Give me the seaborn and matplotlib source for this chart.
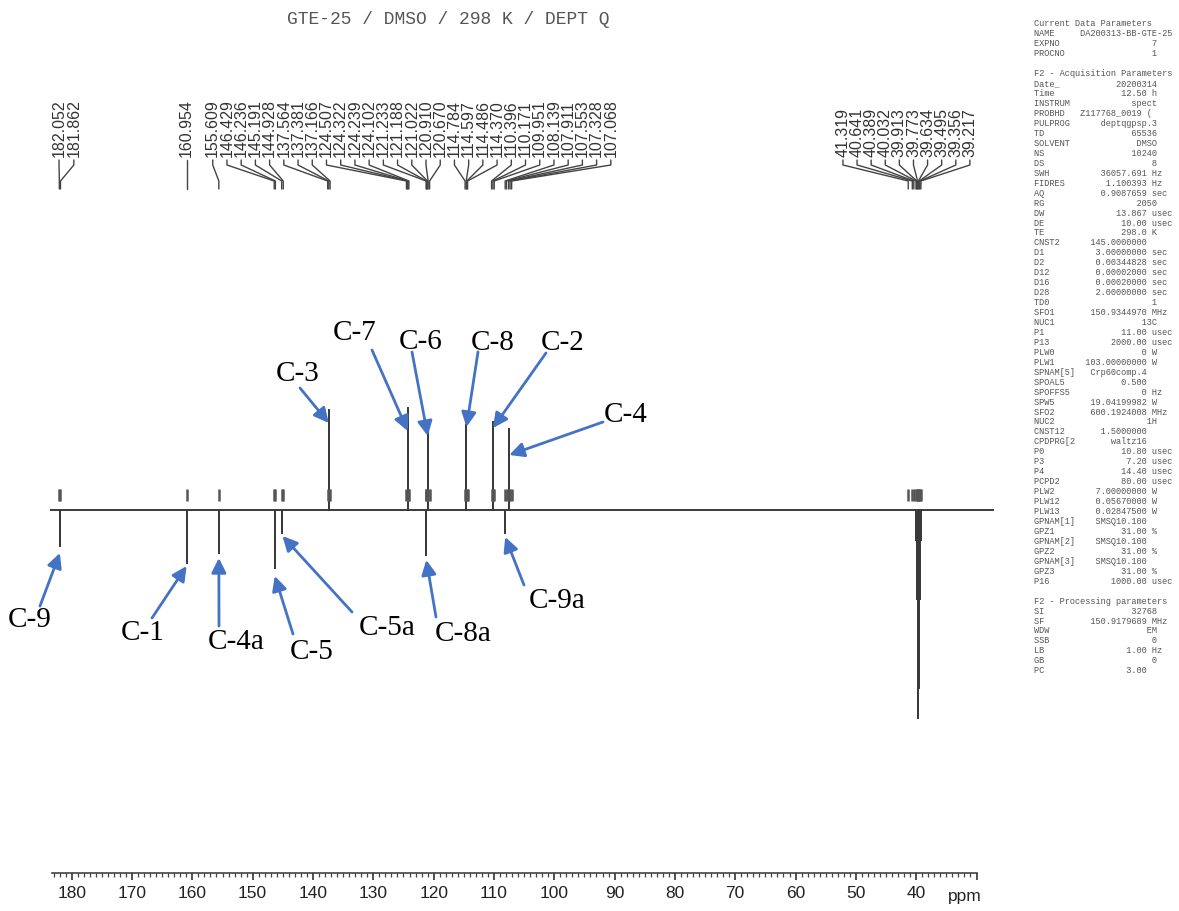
import matplotlib
matplotlib.use("Agg")
import matplotlib.pyplot as plt
import numpy as np
import pandas as pd
import seaborn as sns

# peak pick list printed above the spectrum (ppm)
pick_ppm = [182.052, 181.862, 160.954, 155.609, 146.429, 146.236, 145.191, 144.928,
            137.564, 137.381, 137.166, 124.507, 124.322, 124.239, 124.102, 121.233,
            121.188, 121.022, 120.910, 120.670, 114.784, 114.597, 114.486, 114.370,
            110.396, 110.171, 109.951, 108.139, 107.911, 107.553, 107.328, 107.068,
            41.319, 40.641, 40.389, 40.032, 39.913, 39.773, 39.634, 39.495, 39.356, 39.217]
pick_group = [0, 0, 1] + [2] * 29 + [3] * 10

# assigned carbons (DEPT Q: quaternary negative, CH positive)
carbon = ["C-9", "C-1", "C-4a", "C-5", "C-5a", "C-3", "C-7", "C-6", "C-8a",
          "C-8", "C-2", "C-9a", "C-4"]
carbon_ppm = [181.96, 160.954, 155.609, 146.33, 145.06, 137.38, 124.29, 120.97,
              121.21, 114.56, 110.17, 108.139, 107.47]
carbon_int = [-36, -53, -43, -58, -23, 100, 102, 77, -45, 85, 88, -23, 81]

# DMSO-d6 septet
dmso_ppm = [40.032, 39.913, 39.773, 39.634, 39.495, 39.356, 39.217]
dmso_int = [-30, -89, -178, -208, -178, -89, -30]

axis_ticks = [180, 170, 160, 150, 140, 130, 120, 110, 100, 90, 80, 70, 60, 50, 40]

params = [
    ("Current Data Parameters", None, None),
    ("NAME", "DA200313-BB-GTE-25", "wide"),
    ("EXPNO", "7", None),
    ("PROCNO", "1", None),
    ("", None, None),
    ("F2 - Acquisition Parameters", None, None),
    ("Date_", "20200314", None),
    ("Time", "12.50", "h"),
    ("INSTRUM", "spect", None),
    ("PROBHD", "Z117768_0019 (", "probe"),
    ("PULPROG", "deptqgpsp.3", None),
    ("TD", "65536", None),
    ("SOLVENT", "DMSO", None),
    ("NS", "10240", None),
    ("DS", "8", None),
    ("SWH", "36057.691", "Hz"),
    ("FIDRES", "1.100393", "Hz"),
    ("AQ", "0.9087659", "sec"),
    ("RG", "2050", None),
    ("DW", "13.867", "usec"),
    ("DE", "10.00", "usec"),
    ("TE", "298.0", "K"),
    ("CNST2", "145.0000000", ""),
    ("D1", "3.00000000", "sec"),
    ("D2", "0.00344828", "sec"),
    ("D12", "0.00002000", "sec"),
    ("D16", "0.00020000", "sec"),
    ("D28", "2.00000000", "sec"),
    ("TD0", "1", None),
    ("SFO1", "150.9344970", "MHz"),
    ("NUC1", "13C", None),
    ("P1", "11.00", "usec"),
    ("P13", "2000.00", "usec"),
    ("PLW0", "0", "W"),
    ("PLW1", "103.00000000", "W"),
    ("SPNAM[5]", "Crp60comp.4", ""),
    ("SPOAL5", "0.500", ""),
    ("SPOFFS5", "0", "Hz"),
    ("SPW5", "19.04199982", "W"),
    ("SFO2", "600.1924008", "MHz"),
    ("NUC2", "1H", None),
    ("CNST12", "1.5000000", ""),
    ("CPDPRG[2", "waltz16", ""),
    ("P0", "10.80", "usec"),
    ("P3", "7.20", "usec"),
    ("P4", "14.40", "usec"),
    ("PCPD2", "80.00", "usec"),
    ("PLW2", "7.00000000", "W"),
    ("PLW12", "0.05670000", "W"),
    ("PLW13", "0.02847500", "W"),
    ("GPNAM[1]", "SMSQ10.100", ""),
    ("GPZ1", "31.00", "%"),
    ("GPNAM[2]", "SMSQ10.100", ""),
    ("GPZ2", "31.00", "%"),
    ("GPNAM[3]", "SMSQ10.100", ""),
    ("GPZ3", "31.00", "%"),
    ("P16", "1000.00", "usec"),
    ("", None, None),
    ("F2 - Processing parameters", None, None),
    ("SI", "32768", None),
    ("SF", "150.9179689", "MHz"),
    ("WDW", "EM", None),
    ("SSB", "0", None),
    ("LB", "1.00", "Hz"),
    ("GB", "0", None),
    ("PC", "3.00", ""),
]

# annotation layout (figure pixels from top-left) and arrow tip heights
label_xy = [(30, 620), (143, 633), (236, 642), (312, 652), (387, 628), (298, 374),
            (355, 333), (421, 342), (463, 634), (493, 343), (563, 343), (557, 601),
            (626, 415)]
arrow_tail = [(40, 606), (152, 618), (219, 626), (293, 634), (352, 612), (300, 388),
              (372, 350), (412, 352), (436, 617), (478, 352), (546, 353), (524, 585),
              (603, 422)]
arrow_tip = [-43, -56, -48, -66, -26, 87, 79, 74, -50, 83, 82, -27, 55]

W, H = 1179, 911
sns.set_style("white")
plt.rcParams["font.family"] = ["Liberation Sans", "DejaVu Sans"]

fig = plt.figure(figsize=(W / 100, H / 100), dpi=100)
xlim = (183.6, 27.1)
left, width = 50 / W, 944 / W
line_col = "#3a3a3a"

# spectrum
ax = fig.add_axes([left, (H - 725) / H, width, 335 / H])
rows = [(xlim[0], 0.0)]
peaks = sorted(zip(carbon_ppm + dmso_ppm, carbon_int + dmso_int), reverse=True)
for p, h in peaks:
    rows += [(p, 0.0), (p, h), (p, 0.0)]
rows.append((xlim[1], 0.0))
trace = pd.DataFrame(rows, columns=["ppm", "intensity"])
sns.lineplot(data=trace, x="ppm", y="intensity", sort=False, estimator=None,
             ax=ax, color=line_col, lw=1.4)
ax.vlines(pick_ppm, 9, 21, color="#555555", lw=1.8)
ax.set_xlim(*xlim)
ax.set_ylim(-215, 120)
ax.axis("off")

# ppm ruler
axr = fig.add_axes([left, (H - 873) / H, width, 0.0005])
axr.set_xlim(*xlim)
axr.set_yticks([])
for s in ["left", "right", "top"]:
    axr.spines[s].set_visible(False)
axr.spines["bottom"].set_bounds(183.3, 30)
axr.spines["bottom"].set_color("#333333")
axr.spines["bottom"].set_linewidth(1.1)
axr.set_xticks(axis_ticks + [30])
axr.set_xticklabels([str(t) for t in axis_ticks] + [""])
axr.set_xticks(np.arange(183, 29, -1), minor=True)
axr.tick_params(axis="x", which="both", bottom=True, top=False)
axr.tick_params(axis="x", which="major", length=5, width=1.1, pad=4,
                labelsize=12.5, colors="#222222", direction="out")
axr.tick_params(axis="x", which="minor", length=2.6, width=0.9, color="#444444",
                direction="out")
fig.text(965 / W, 1 - 896 / H, "ppm", ha="center", va="center", fontsize=12.5,
         color="#222222")

# peak labels with leader lines
axl = fig.add_axes([left, (H - 195) / H, width, 105 / H])
axl.set_xlim(*xlim)
axl.set_ylim(195, 90)
axl.axis("off")
group_start = [182.1, 160.954, 156.62, 52.14]
group_step = [2.45, 0.0, 2.357, 2.338]
counter = {}
for p, g in zip(pick_ppm, pick_group):
    i = counter.get(g, 0)
    counter[g] = i + 1
    lx = group_start[g] - i * group_step[g]
    axl.text(lx, 157, f"{p:.3f}", rotation=90, ha="center", va="bottom",
             fontsize=11.5, color="#333333")
    axl.plot([lx, lx, p, p], [160, 165, 181, 189], color="#444444", lw=1.0)

# title
fig.text(448 / W, 1 - 19 / H, "GTE-25 / DMSO / 298 K / DEPT Q", ha="center",
         va="center", family="Liberation Mono", fontsize=13, color="#555555")

# carbon assignments
for name, (tx, ty), (ax0, ay0), p, tip in zip(carbon, label_xy, arrow_tail,
                                             carbon_ppm, arrow_tip):
    fig.text(tx / W, 1 - ty / H, name, ha="center", va="center",
             family="Liberation Serif", fontsize=21, color="black")
    ax.annotate("", xy=(p, tip), xycoords="data", xytext=(ax0, H - ay0),
                textcoords="figure pixels",
                arrowprops=dict(arrowstyle="-|>", color="#4472C4", lw=2,
                                mutation_scale=22, shrinkA=0, shrinkB=0))

# acquisition parameter panel
for k, (name, value, unit) in enumerate(params):
    if value is None:
        line = name
    elif unit == "wide":
        line = name.ljust(8) + value.rjust(19)
    elif unit == "probe":
        line = name.ljust(8) + value.rjust(15)
    elif unit is None:
        line = name.ljust(8) + value.rjust(16)
    elif unit == "":
        line = name.ljust(8) + value.rjust(14)
    else:
        line = name.ljust(8) + value.rjust(14) + " " + unit
    fig.text(1034 / W, 1 - (24 + k * 9.95) / H, line, ha="left", va="center",
             family="Liberation Mono", fontsize=6.2, color="#555555")

fig.savefig("out.png", dpi=100)
plt.close(fig)
